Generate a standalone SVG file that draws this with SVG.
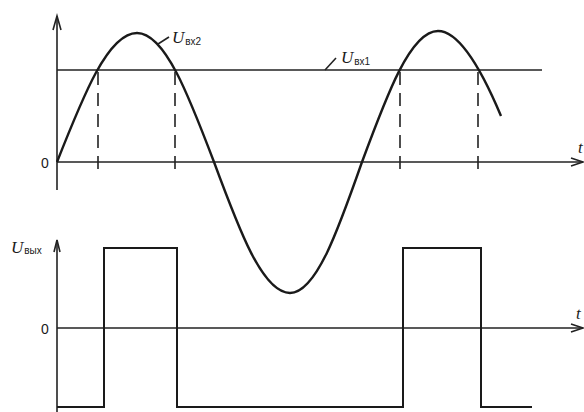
<svg xmlns="http://www.w3.org/2000/svg" width="584" height="412" viewBox="0 0 584 412">
<style>
.ax{stroke:#222;stroke-width:1.6;fill:none}
.arr{stroke:#222;stroke-width:1.6;fill:none;stroke-linejoin:miter}
.cv{stroke:#1a1a1a;stroke-width:2.4;fill:none}
.sq{stroke:#1a1a1a;stroke-width:2;fill:none}
.dash{stroke:#222;stroke-width:1.6;stroke-dasharray:13 8;fill:none}
.lbl{font-family:"Liberation Serif",serif;fill:#1a1a1a}
.u{font-style:italic;font-size:17px}
.sub{font-size:10px;font-family:"Liberation Sans",sans-serif}
.num{font-size:14px;font-family:"Liberation Sans",sans-serif;fill:#1a1a1a}
</style>
<rect width="584" height="412" fill="#fff"/>
<g id="top-axes">
<line class="ax" x1="57" y1="16" x2="57" y2="190"/>
<polyline class="arr" points="53,30 57,16 61,30"/>
<line class="ax" x1="57" y1="162" x2="583" y2="162"/>
<polyline class="arr" points="571,158 583,162 571,166"/>
<text class="num" x="41" y="168">0</text>
<text class="lbl u" x="578" y="153">t</text>
</g>
<g id="threshold-Uvx1">
<line class="ax" x1="57" y1="70" x2="542" y2="70"/>
<path class="ax" d="M325,70 L336,58"/>
<text class="lbl" x="341" y="63"><tspan class="u">U</tspan><tspan class="sub" dx="1" dy="2">вх1</tspan></text>
</g>
<g id="sine-Uvx2">
<path class="cv" d="M57,162 C83.1,95.9 108,33 137,33 C164.9,33 188.9,95.9 214,162 C238.8,229.1 262.5,293 290,293 C316.1,293 338.5,229.1 362,162 C386.8,94.9 410.5,31 438,31 C458,31 480,66 501,116"/>
<path class="ax" d="M158,44 L169,37"/>
<text class="lbl" x="172" y="43"><tspan class="u">U</tspan><tspan class="sub" dx="1" dy="2">вх2</tspan></text>
</g>
<g id="dashed-markers">
<line class="dash" x1="98" y1="72" x2="98" y2="176"/>
<line class="dash" x1="175" y1="72" x2="175" y2="176"/>
<line class="dash" x1="400" y1="72" x2="400" y2="176"/>
<line class="dash" x1="478" y1="72" x2="478" y2="176"/>
</g>
<g id="bottom-axes">
<line class="ax" x1="57" y1="240" x2="57" y2="412"/>
<polyline class="arr" points="54,252 57,240 60,252"/>
<line class="ax" x1="57" y1="328" x2="583" y2="328"/>
<polyline class="arr" points="571,324 583,328 571,332"/>
<text class="num" x="41" y="334">0</text>
<text class="lbl u" x="576" y="319">t</text>
<text class="lbl" x="11" y="253"><tspan class="u">U</tspan><tspan class="sub" dx="1" dy="1">вых</tspan></text>
</g>
<g id="square-Uvyx">
<polyline class="sq" points="57,407 104,407 104,248 177,248 177,407 403,407 403,248 481,248 481,407 532,407"/>
</g>
</svg>
